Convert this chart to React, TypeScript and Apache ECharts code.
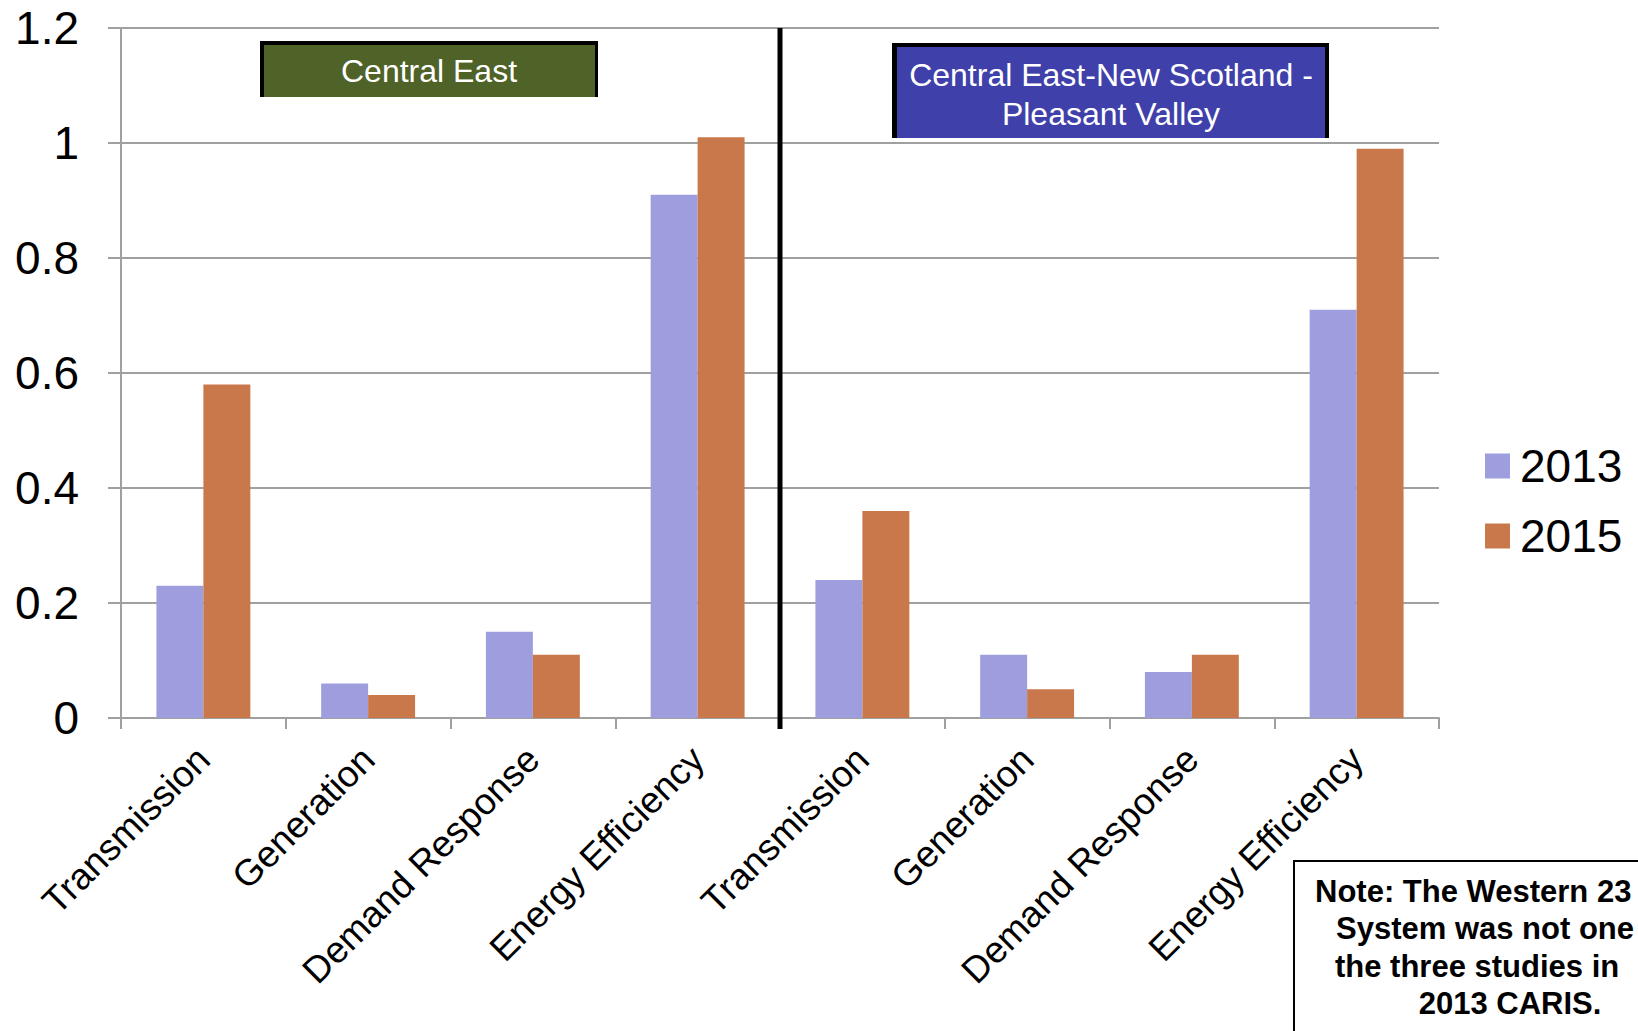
import React, { useEffect, useRef } from "react";
import * as echarts from "echarts";

const categories = [
  "CE|Transmission",
  "CE|Generation",
  "CE|Demand Response",
  "CE|Energy Efficiency",
  "PV|Transmission",
  "PV|Generation",
  "PV|Demand Response",
  "PV|Energy Efficiency",
];
const values2013 = [0.23, 0.06, 0.15, 0.91, 0.24, 0.11, 0.08, 0.71];
const values2015 = [0.58, 0.04, 0.11, 1.01, 0.36, 0.05, 0.11, 0.99];
const seriesNames = ["2013", "2015"];
const yTicks = { min: 0, max: 1.2, interval: 0.2 };
const boxLabel1 = "Central East";
const boxLabel2 = "Central East-New Scotland -\nPleasant Valley";
const noteLines = [
  "Note: The Western 23",
  "System was not one",
  "the three studies in",
  "2013 CARIS.",
];

const FONT = "'Liberation Sans', Arial, Helvetica, sans-serif";
const GRID = "#a0a0a0";

export default function App() {
  const ref = useRef<HTMLDivElement>(null);
  useEffect(() => {
    document.body.style.margin = "0";
    const chart = echarts.init(ref.current!, null, { renderer: "svg" });
    chart.setOption({
      animation: false,
      backgroundColor: "#ffffff",
      textStyle: { fontFamily: FONT },
      grid: { left: 121, right: 199, top: 28, bottom: 313, containLabel: false },
      legend: {
        orient: "vertical",
        left: 1485,
        top: 443,
        padding: 0,
        itemWidth: 25,
        itemHeight: 25,
        itemGap: 24,
        icon: "rect",
        data: seriesNames,
        textStyle: {
          fontFamily: FONT,
          fontSize: 46,
          lineHeight: 46,
          color: "#000",
          padding: [0, 0, 0, 5],
        },
      },
      xAxis: {
        type: "category",
        data: categories,
        axisLine: { lineStyle: { color: GRID, width: 2 } },
        axisTick: { show: true, length: 11, lineStyle: { color: GRID, width: 2 } },
        axisLabel: {
          rotate: 45,
          interval: 0,
          margin: 35,
          fontFamily: FONT,
          fontSize: 37,
          color: "#000",
          formatter: (v: string) => v.split("|")[1],
        },
      },
      yAxis: {
        type: "value",
        min: yTicks.min,
        max: yTicks.max,
        interval: yTicks.interval,
        axisLine: { show: true, lineStyle: { color: GRID, width: 2 } },
        axisTick: { show: true, length: 13, lineStyle: { color: GRID, width: 2 } },
        splitLine: { show: true, lineStyle: { color: GRID, width: 2 } },
        axisLabel: {
          margin: 42,
          fontFamily: FONT,
          fontSize: 46,
          color: "#000",
          formatter: (v: number) => String(Math.round(v * 10) / 10),
        },
      },
      series: [
        {
          name: seriesNames[0],
          type: "bar",
          data: values2013,
          barGap: "0%",
          barCategoryGap: "43%",
          itemStyle: { color: "#9e9ede" },
        },
        {
          name: seriesNames[1],
          type: "bar",
          data: values2015,
          barGap: "0%",
          barCategoryGap: "43%",
          itemStyle: { color: "#c8784a" },
        },
      ],
    });

    const xa = chart.convertToPixel({ xAxisIndex: 0 }, 3) as number;
    const xb = chart.convertToPixel({ xAxisIndex: 0 }, 4) as number;
    const yTop = chart.convertToPixel({ yAxisIndex: 0 }, yTicks.max) as number;
    const yBot = chart.convertToPixel({ yAxisIndex: 0 }, 0) as number;
    const divX = (xa + xb) / 2;

    const noteStyle = {
      fill: "#000",
      fontFamily: FONT,
      fontWeight: "bold",
      fontSize: 31,
      verticalAlign: "alphabetic",
    };
    const noteX = [1315, 1336, 1335, 1510];
    const noteAlign = ["left", "left", "left", "center"];

    chart.setOption({
      graphic: [
        {
          type: "line",
          shape: { x1: divX, y1: yTop, x2: divX, y2: yBot + 11 },
          style: { stroke: "#000", lineWidth: 5 },
          z: 100,
        },
        // Central East box
        { type: "rect", shape: { x: 260, y: 41, width: 338, height: 56 }, style: { fill: "#000" }, z: 100 },
        { type: "rect", shape: { x: 264, y: 45, width: 331, height: 52 }, style: { fill: "#4f6228" }, z: 101 },
        {
          type: "text",
          x: 429,
          y: 71,
          style: {
            text: boxLabel1,
            fill: "#fff",
            fontFamily: FONT,
            fontSize: 32,
            align: "center",
            verticalAlign: "middle",
          },
          z: 102,
        },
        // Central East-New Scotland box
        { type: "rect", shape: { x: 892, y: 43, width: 437, height: 95 }, style: { fill: "#000" }, z: 100 },
        { type: "rect", shape: { x: 897, y: 47, width: 428, height: 91 }, style: { fill: "#4040aa" }, z: 101 },
        {
          type: "text",
          x: 1111,
          y: 94,
          style: {
            text: boxLabel2,
            fill: "#fff",
            fontFamily: FONT,
            fontSize: 32,
            lineHeight: 39,
            align: "center",
            verticalAlign: "middle",
          },
          z: 102,
        },
        // Note box
        {
          type: "rect",
          shape: { x: 1294, y: 861, width: 500, height: 300 },
          style: { fill: "#fff", stroke: "#000", lineWidth: 2 },
          z: 100,
        },
        ...noteLines.map((t, i) => ({
          type: "text",
          x: noteX[i],
          y: 891 + i * 37.5,
          style: { ...noteStyle, text: t, align: noteAlign[i], verticalAlign: "middle" },
          z: 101,
        })),
      ],
    });

    return () => chart.dispose();
  }, []);
  return <div ref={ref} style={{ width: 1638, height: 1031 }} />;
}
